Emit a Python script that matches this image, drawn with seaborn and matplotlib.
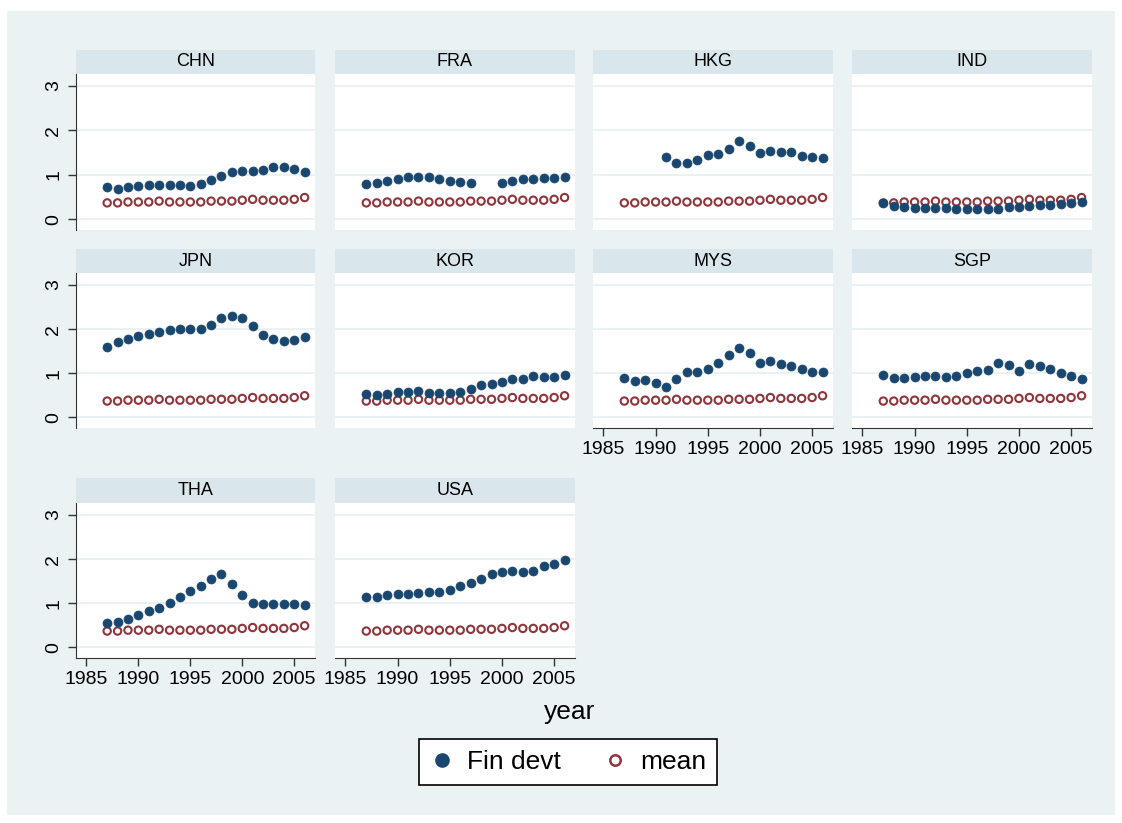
import numpy as np
import pandas as pd
import matplotlib.pyplot as plt
import seaborn as sns
from matplotlib.lines import Line2D
from matplotlib.patches import Rectangle

# Data (financial development by country, 1987-2006)
years = list(range(1987, 2007))
countries = ["CHN", "FRA", "HKG", "IND", "JPN", "KOR", "MYS", "SGP", "THA", "USA"]

# cross-country mean, same in every panel
mean_vals = [0.37, 0.37, 0.39, 0.39, 0.39, 0.41, 0.39, 0.39, 0.39, 0.39,
             0.41, 0.41, 0.41, 0.43, 0.45, 0.43, 0.43, 0.43, 0.45, 0.49]

chn = [0.73, 0.68, 0.72, 0.76, 0.78, 0.78, 0.78, 0.78, 0.76, 0.80,
       0.88, 0.98, 1.06, 1.09, 1.09, 1.12, 1.18, 1.17, 1.13, 1.06]
fra = [0.80, 0.82, 0.87, 0.91, 0.95, 0.95, 0.95, 0.91, 0.86, 0.85,
       0.82, np.nan, np.nan, 0.82, 0.87, 0.91, 0.91, 0.93, 0.94, 0.96]
hkg = [np.nan, np.nan, np.nan, np.nan, 1.41, 1.27, 1.27, 1.34, 1.45, 1.48,
       1.58, 1.76, 1.64, 1.49, 1.54, 1.52, 1.51, 1.43, 1.41, 1.37]
ind = [0.36, 0.30, 0.27, 0.25, 0.25, 0.25, 0.25, 0.23, 0.23, 0.23,
       0.23, 0.24, 0.27, 0.28, 0.31, 0.32, 0.32, 0.34, 0.37, 0.40]
jpn = [1.60, 1.71, 1.78, 1.84, 1.89, 1.93, 1.99, 2.01, 2.01, 2.01,
       2.09, 2.24, 2.30, 2.24, 2.07, 1.87, 1.78, 1.74, 1.76, 1.81]
kor = [0.52, 0.51, 0.54, 0.58, 0.58, 0.60, 0.56, 0.56, 0.56, 0.58,
       0.64, 0.73, 0.76, 0.80, 0.86, 0.87, 0.94, 0.92, 0.92, 0.95]
mys = [0.89, 0.83, 0.85, 0.77, 0.69, 0.87, 1.02, 1.02, 1.09, 1.24,
       1.41, 1.57, 1.45, 1.24, 1.28, 1.20, 1.16, 1.09, 1.02, 1.02]
sgp = [0.95, 0.89, 0.89, 0.91, 0.93, 0.93, 0.91, 0.93, 1.00, 1.04,
       1.08, 1.23, 1.18, 1.06, 1.21, 1.16, 1.10, 1.00, 0.93, 0.87]
tha = [0.55, 0.58, 0.65, 0.74, 0.82, 0.89, 1.01, 1.14, 1.27, 1.38,
       1.54, 1.67, 1.44, 1.19, 1.01, 0.98, 0.99, 0.98, 0.99, 0.95]
usa = [1.14, 1.14, 1.19, 1.20, 1.21, 1.23, 1.25, 1.25, 1.29, 1.39,
       1.45, 1.55, 1.67, 1.71, 1.73, 1.71, 1.73, 1.84, 1.88, 1.97]

fin_devt = [chn, fra, hkg, ind, jpn, kor, mys, sgp, tha, usa]

rows = []
for c, vals in zip(countries, fin_devt):
    for y, v, m in zip(years, vals, mean_vals):
        rows.append({"country": c, "year": y, "Fin devt": v, "mean": m})
df = pd.DataFrame(rows)

# Colours (Stata s2color look)
navy = "#1A476F"
maroon = "#90353B"
bg = "#EAF2F3"
strip_col = "#D9E6EB"
axis_col = "#333333"

sns.set_style("white")
plt.rcParams['font.family'] = ['Liberation Sans', 'DejaVu Sans']
plt.rcParams['text.color'] = 'black'
plt.rcParams['xtick.color'] = 'black'
plt.rcParams['ytick.color'] = 'black'

W, H = 1122, 823
fig = plt.figure(figsize=(W / 100, H / 100), dpi=100)
fig.patch.set_facecolor("white")
fig.patches.append(Rectangle((7 / W, 1 - 815 / H), 1108 / W, 804 / H,
                             transform=fig.transFigure, facecolor=bg,
                             edgecolor="none", zorder=-10))

def box(x0, y0, x1, y1):
    return [x0 / W, 1 - y1 / H, (x1 - x0) / W, (y1 - y0) / H]

col_x = [(76, 315), (335, 575), (593, 833), (852, 1092)]
row_y = [(50, 74, 230), (249, 273, 428), (478, 503, 658)]

for i, c in enumerate(countries):
    r, k = divmod(i, 4)
    x0, x1 = col_x[k]
    s0, p0, p1 = row_y[r]

    # strip with panel title
    sax = fig.add_axes(box(x0, s0, x1, p0))
    sax.set_facecolor(strip_col)
    sax.set_xticks([])
    sax.set_yticks([])
    for sp in sax.spines.values():
        sp.set_visible(False)
    sax.text(0.5, 0.5, c, ha="center", va="center", fontsize=13, color="black")

    ax = fig.add_axes(box(x0, p0, x1, p1))
    ax.set_facecolor("white")
    sub = df[df["country"] == c]
    sns.scatterplot(data=sub, x="year", y="mean", ax=ax, marker="o", s=28,
                    facecolor="none", edgecolor=maroon, linewidth=1.5, zorder=3)
    sns.scatterplot(data=sub, x="year", y="Fin devt", ax=ax, marker="o", s=42,
                    color=navy, edgecolor=navy, linewidth=0.5, zorder=4)

    ax.set_xlim(1984.0, 2007.0)
    ax.set_ylim(-0.24, 3.27)
    ax.set_yticks([0, 1, 2, 3])
    ax.set_xticks([1985, 1990, 1995, 2000, 2005])
    ax.yaxis.grid(True, color=bg, linewidth=1.4)
    ax.set_axisbelow(True)
    ax.set_xlabel("")
    ax.set_ylabel("")
    for sp in ax.spines.values():
        sp.set_visible(False)

    show_y = (k == 0)
    show_x = (i >= 6)
    if show_y:
        ax.spines["left"].set_visible(True)
        ax.spines["left"].set_color(axis_col)
        ax.tick_params(axis="y", left=True, length=6, width=1, color=axis_col,
                       labelsize=14, pad=4)
        for t in ax.get_yticklabels():
            t.set_rotation(90)
            t.set_va("center")
    else:
        ax.tick_params(axis="y", left=False, labelleft=False)
    if show_x:
        ax.spines["bottom"].set_visible(True)
        ax.spines["bottom"].set_color(axis_col)
        ax.tick_params(axis="x", bottom=True, length=6, width=1, color=axis_col,
                       labelsize=14, pad=3)
    else:
        ax.tick_params(axis="x", bottom=False, labelbottom=False)

fig.text(570 / W, 1 - 712 / H, "year", ha="center", va="center", fontsize=19)

handles = [
    Line2D([], [], linestyle="none", marker="o", markersize=9.5,
           markerfacecolor=navy, markeredgecolor=navy),
    Line2D([], [], linestyle="none", marker="o", markersize=7.5,
           markerfacecolor="white", markeredgecolor=maroon, markeredgewidth=1.8),
]
leg = fig.legend(handles, ["Fin devt", "mean"], loc="center",
                 bbox_to_anchor=(568 / W, 1 - 762 / H), ncol=2, fontsize=19,
                 frameon=True, fancybox=False, framealpha=1, handletextpad=0.5,
                 columnspacing=1.6, borderpad=0.4, handlelength=0.9,
                 borderaxespad=0)
leg.get_frame().set_edgecolor("black")
leg.get_frame().set_linewidth(1.2)
leg.get_frame().set_facecolor("white")

fig.savefig("out.png", dpi=100)
